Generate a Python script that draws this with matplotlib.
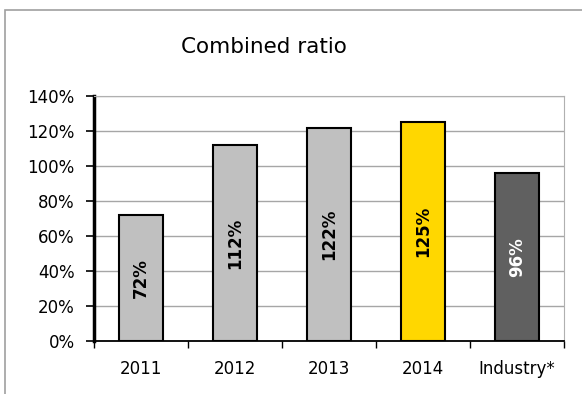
import numpy as np
import matplotlib.pyplot as plt
from matplotlib.patches import Rectangle

categories = ["2011", "2012", "2013", "2014", "Industry*"]
ratios = [72, 112, 122, 125, 96]
bar_colors = ["#c0c0c0", "#c0c0c0", "#c0c0c0", "#ffd700", "#606060"]
label_colors = ["black", "black", "black", "black", "white"]
yticks = [0, 20, 40, 60, 80, 100, 120, 140]

fig = plt.figure(figsize=(5.82, 3.94), dpi=100)
fig.patch.set_facecolor("white")

# outer frame of the chart
fig.patches.append(Rectangle((5 / 582, -0.05), 1.1, 1 - 10 / 394 + 0.05,
                             transform=fig.transFigure, fill=False,
                             edgecolor="#a0a0a0", linewidth=1.2))

ax = fig.add_axes([94 / 582, (394 - 341) / 394, (564 - 94) / 582, (341 - 96) / 394])

x = np.arange(len(categories))
bars = ax.bar(x, ratios, width=0.46, color=bar_colors, edgecolor="black",
              linewidth=1.5, zorder=3)

for b, v, c in zip(bars, ratios, label_colors):
    ax.text(b.get_x() + b.get_width() / 2, v / 2, f"{v}%", rotation=90,
            ha="center", va="center", fontsize=12, fontweight="bold",
            color=c, zorder=4)

ax.set_xlim(-0.5, len(categories) - 0.5)
ax.set_ylim(0, 140)
ax.set_yticks(yticks)
ax.set_yticklabels([f"{t}%" for t in yticks], fontsize=12)
ax.set_xticks(x)
ax.set_xticklabels(categories, fontsize=12)
ax.tick_params(axis="x", length=0, pad=14)
ax.set_xticks(np.arange(len(categories) + 1) - 0.5, minor=True)
ax.tick_params(axis="x", which="minor", length=5, width=1, color="black")
ax.tick_params(axis="y", length=6, width=1.2, pad=8)

ax.grid(axis="y", color="#a6a6a6", linewidth=1, zorder=0)
ax.spines["left"].set_linewidth(2.5)
ax.spines["bottom"].set_linewidth(1.3)
ax.spines["top"].set_color("#b0b0b0")
ax.spines["right"].set_color("#b0b0b0")

fig.text(264 / 582, 1 - 47 / 394, "Combined ratio", ha="center", va="center",
         fontsize=15.5)

fig.savefig("out.png", dpi=100)
